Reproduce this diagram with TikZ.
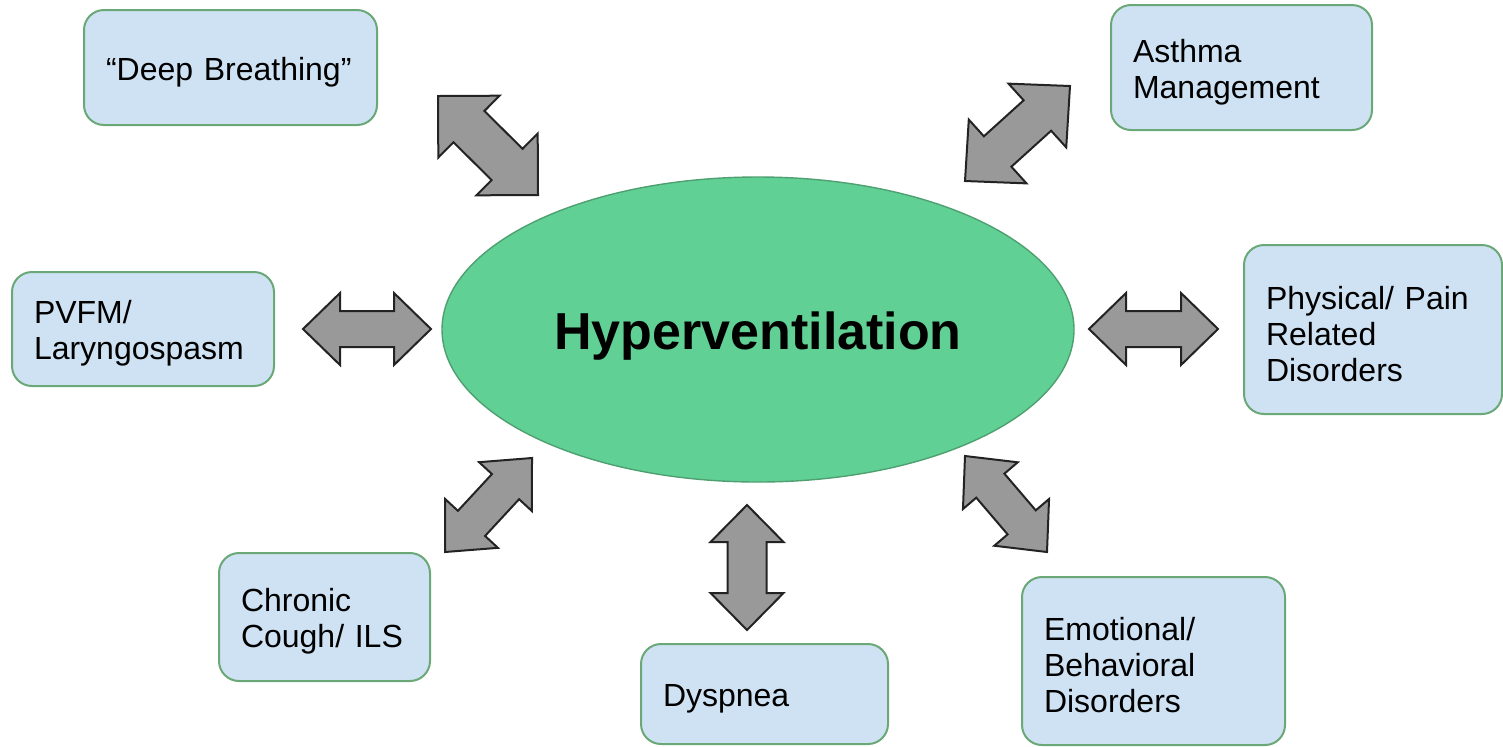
\documentclass[tikz,border=0pt]{standalone}
\usepackage{fontspec}
\setmainfont{Liberation Sans}
\usetikzlibrary{calc,shapes.geometric}
\definecolor{boxfill}{RGB}{207,226,243}
\definecolor{boxline}{RGB}{106,168,120}
\definecolor{ellfill}{RGB}{97,208,149}
\definecolor{ellline}{RGB}{78,160,112}
\definecolor{arrfill}{RGB}{153,153,153}
\definecolor{arrline}{RGB}{35,35,35}
\tikzset{
  box/.style={draw=boxline, fill=boxfill, line width=1pt, rounded corners=10pt,
    align=left, font=\fontsize{16}{18}\selectfont, inner xsep=11pt, inner ysep=0pt,
    execute at begin node={\rule{0pt}{16pt}}},
  hub/.style={draw=ellline, fill=ellfill, ellipse, line width=0.7pt,
    font=\fontsize{26}{30}\selectfont\bfseries, inner sep=0pt},
  barrow/.style={draw=arrline, fill=arrfill, line width=1pt, line join=miter}
}
% block double arrow between two named coordinates
% #1 A, #2 B, #3 head length, #4 head half width, #5 shaft half width, #6 name
\newcommand{\blockarrow}[6]{%
  \coordinate (#6-ha) at ($(#1)!#3!(#2)$);
  \coordinate (#6-hb) at ($(#2)!#3!(#1)$);
  \draw[barrow] (#1) -- ($(#6-ha)!#4!90:(#2)$) -- ($(#6-ha)!#5!90:(#2)$)
    -- ($(#6-hb)!#5!-90:(#1)$) -- ($(#6-hb)!#4!-90:(#1)$) -- (#2)
    -- ($(#6-hb)!#4!90:(#1)$) -- ($(#6-hb)!#5!90:(#1)$)
    -- ($(#6-ha)!#5!-90:(#2)$) -- ($(#6-ha)!#4!-90:(#2)$) -- cycle;}
\begin{document}
\begin{tikzpicture}[x=0.5pt,y=-0.5pt]
\useasboundingbox (0,0) rectangle (1503,746);
\clip (0,0) rectangle (1503,746);

% central ellipse
\node[hub, minimum width=316pt, minimum height=152.5pt] (hv) at (758,329.5) {\rule{0pt}{25pt}Hyperventilation};

% boxes
\node[box, text width=124.5pt, minimum height=57.5pt] (deep) at (230.5,67.5) {“Deep Breathing”};
\node[box, text width=108.5pt, minimum height=62.5pt] (asthma) at (1241.5,67.5) {Asthma\\Management};
\node[box, text width=109pt, minimum height=57pt] (pvfm) at (143,329) {PVFM/\\Laryngospasm};
\node[box, text width=107pt, minimum height=84.5pt] (phys) at (1373,329.5) {Physical/ Pain\\Related\\Disorders};
\node[box, text width=83.5pt, minimum height=64pt] (cough) at (324.5,617) {Chronic\\Cough/ ILS};
\node[box, text width=101.5pt, minimum height=50pt] (dysp) at (764.5,694) {Dyspnea};
\node[box, text width=109.5pt, minimum height=84pt] (emo) at (1153.5,661) {Emotional/\\Behavioral\\Disorders};

% arrow end points
\coordinate (tlA) at (438,96);   \coordinate (tlB) at (538,195);
\coordinate (trA) at (1070,86);  \coordinate (trB) at (965,181);
\coordinate (lA) at (303,329);   \coordinate (lB) at (431,329);
\coordinate (rA) at (1089,329);  \coordinate (rB) at (1218,329);
\coordinate (blA) at (532,458);  \coordinate (blB) at (445,552);
\coordinate (brA) at (965,456);  \coordinate (brB) at (1047,552);
\coordinate (bA) at (747,505);   \coordinate (bB) at (747,630);

\blockarrow{tlA}{tlB}{21.75pt}{21.75pt}{11pt}{tl}
\blockarrow{trA}{trB}{22pt}{21.5pt}{10.25pt}{tr}
\blockarrow{lA}{lB}{18.5pt}{18pt}{9pt}{l}
\blockarrow{rA}{rB}{18.5pt}{18pt}{9pt}{r}
\blockarrow{blA}{blB}{19.5pt}{18pt}{9.25pt}{bl}
\blockarrow{brA}{brB}{19.5pt}{18pt}{9.25pt}{br}
\blockarrow{bA}{bB}{18.5pt}{18.25pt}{9.75pt}{b}
\end{tikzpicture}
\end{document}
